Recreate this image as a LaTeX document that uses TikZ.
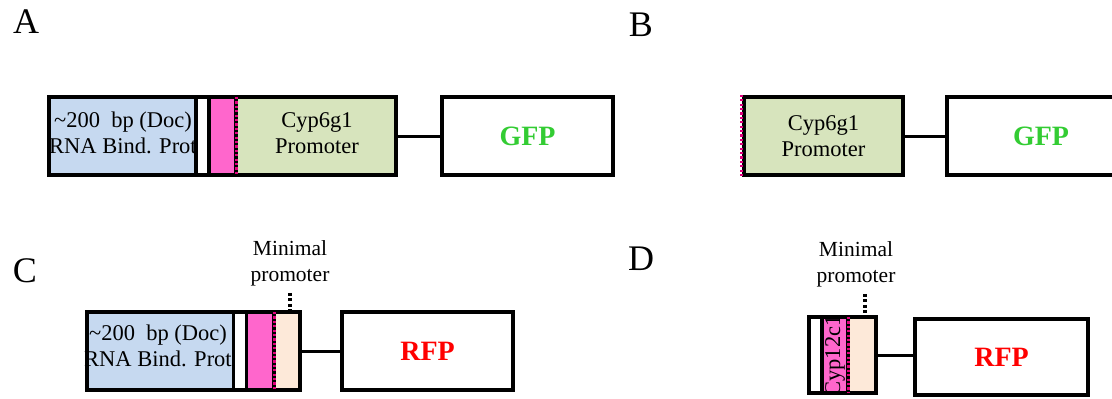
\documentclass[tikz,border=0pt]{standalone}
\usepackage{fontspec}
\setmainfont{Liberation Serif}
\usetikzlibrary{positioning}

% colours of the construct parts
\definecolor{bindblue}{RGB}{198,217,240}
\definecolor{promgreen}{RGB}{215,228,189}
\definecolor{enhpink}{RGB}{255,102,204}
\definecolor{minpeach}{RGB}{253,233,217}
\definecolor{gfpgreen}{RGB}{51,204,51}
\definecolor{dotpink}{RGB}{225,0,125}

\tikzset{
  box/.style={draw, line width=4.5pt, rectangle, inner sep=0pt},
  sep/.style={line width=3.2pt},
  tss/.style={line width=3pt, draw=dotpink, dash pattern=on 2.2pt off 2.2pt},
  link/.style={line width=3pt},
  pointer/.style={line width=3.2pt, dash pattern=on 3pt off 2.5pt, shorten <=7pt},
  reporter/.style={box, font=\fontsize{28}{30}\selectfont\bfseries},
  txt/.style={font=\fontsize{22.5}{25.5}\selectfont, align=center, inner sep=0pt},
  small/.style={font=\fontsize{21.5}{26}\selectfont, align=center, inner sep=0pt},
  panel/.style={font=\fontsize{36}{36}\selectfont, inner sep=0pt}
}

\begin{document}
\begin{tikzpicture}[x=1pt, y=-1pt]
\useasboundingbox (0,0) rectangle (1112,399);
\clip (0,0) rectangle (1112,399);

% panel letters
\node[panel] (lblA) at (26,22) {A};
\node[panel] (lblB) at (641,25) {B};
\node[panel] (lblC) at (25,271) {C};
\node[panel] (lblD) at (641,259) {D};

% ---- A : binding site + enhancer + Cyp6g1 promoter -> GFP
\fill[bindblue] (49,97) rectangle (196,175);
\fill[enhpink] (209,97) rectangle (236,175);
\fill[promgreen] (236,97) rectangle (396,175);
\node[box, minimum width=347pt, minimum height=78pt] (consA) at (222.5,136) {};
\draw[sep] (196,97) -- (196,175);
\draw[sep] (209,97) -- (209,175);
\draw[sep] (236,97) -- (236,175);
\draw[tss] (236,97) -- (236,175);
\node[txt] (docA) at (123,133) {\textasciitilde200\ \ bp (Doc)\\RNA Bind. Prot};
\node[txt] (cypA) at (317,133) {Cyp6g1\\Promoter};
\node[reporter, minimum width=171pt, minimum height=78pt, text=gfpgreen] (gfpA) at (527.5,136) {GFP};
\draw[link] (consA.east) -- (gfpA.west);

% ---- B : Cyp6g1 promoter only -> GFP
\node[box, txt, fill=promgreen, minimum width=159pt, minimum height=78pt] (consB) at (823.5,136) {Cyp6g1\\Promoter};
\draw[tss] (consB.north west) -- (consB.south west);
\node[reporter, minimum width=188pt, minimum height=78pt, text=gfpgreen] (gfpB) at (1041,136) {GFP};
\draw[link] (consB.east) -- (gfpB.west);

% ---- C : binding site + enhancer + minimal promoter -> RFP
\fill[bindblue] (87,312) rectangle (233,390);
\fill[enhpink] (247,312) rectangle (274,390);
\fill[minpeach] (274,312) rectangle (300,390);
\node[box, minimum width=213pt, minimum height=78pt] (consC) at (193.5,351) {};
\draw[sep] (233.5,312) -- (233.5,390);
\draw[sep] (246.5,312) -- (246.5,390);
\draw[sep] (274,312) -- (274,390);
\draw[tss] (274,312) -- (274,390);
\node[txt] (docC) at (158,346) {\textasciitilde200\ \ bp (Doc)\\RNA Bind. Prot};
\node[reporter, minimum width=171pt, minimum height=78pt, text=red] (rfpC) at (427.5,351) {RFP};
\draw[link] (consC.east) -- (rfpC.west);
\node[small] (mpC) at (290,263) {Minimal\\promoter};
\coordinate (tipC) at (290,312);
\draw[pointer] (mpC.south) -- (tipC);

% ---- D : Cyp12c1 piece + minimal promoter -> RFP
\fill[enhpink] (822,317) rectangle (848,393);
\fill[minpeach] (848,317) rectangle (876,393);
\begin{scope}
\clip (823,317) rectangle (847,393);
\node[txt, rotate=90] (cypD) at (835,356) {Cyp12c1};
\end{scope}
\node[box, minimum width=67pt, minimum height=76pt] (consD) at (842.5,355) {};
\draw[sep] (822,317) -- (822,393);
\draw[sep] (848,317) -- (848,393);
\draw[tss] (848,317) -- (848,393);
\node[reporter, minimum width=173pt, minimum height=76pt, text=red] (rfpD) at (1001.5,357) {RFP};
\draw[link] (consD.east) -- (consD.east -| rfpD.west);
\node[small] (mpD) at (856,264) {Minimal\\promoter};
\coordinate (tipD) at (865,317);
\draw[pointer] (mpD.south -| tipD) -- (tipD);
\end{tikzpicture}
\end{document}
